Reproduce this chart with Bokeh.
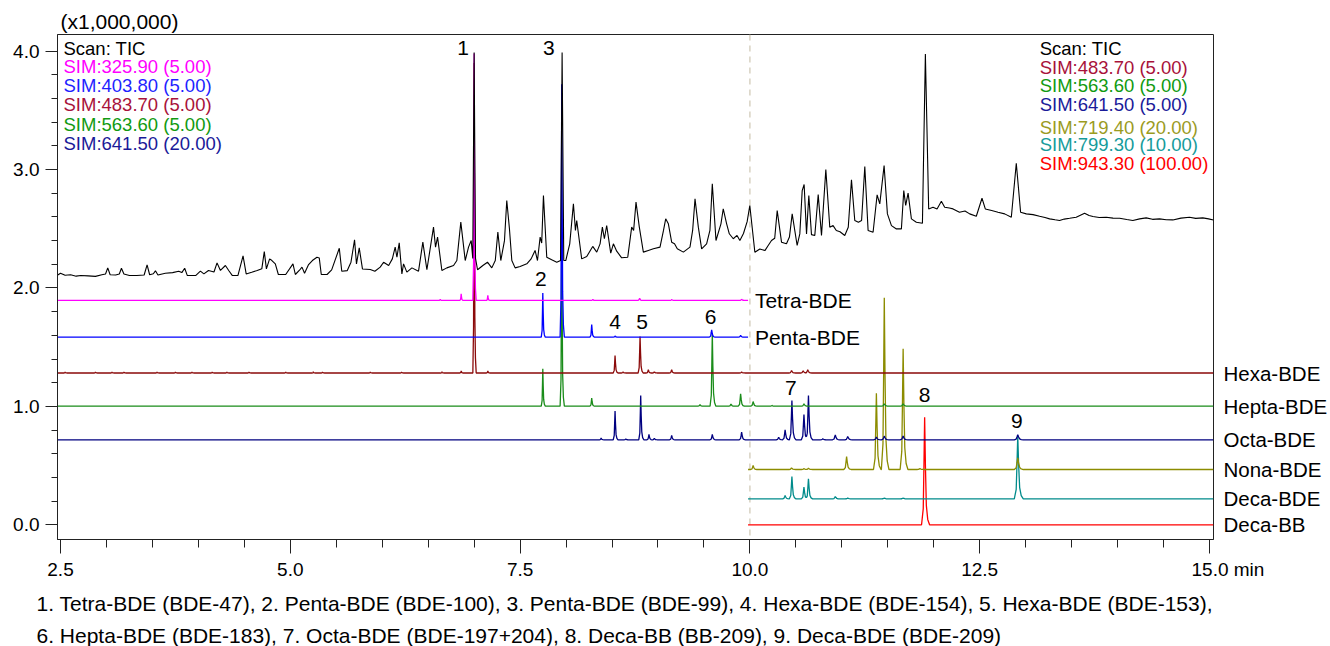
import numpy as np
from bokeh.plotting import figure
from bokeh.models import (Label, Span, FixedTicker, NumeralTickFormatter, Range1d, Title,
                          LinearAxis, CustomJSTickFormatter)
from bokeh.embed import file_html
from bokeh.resources import INLINE

# ---------------- data ----------------
TIC_T = [2.47, 2.50, 2.55, 2.61, 2.67, 2.72, 2.80, 2.88, 2.95, 2.99, 3.014, 3.04, 3.10, 3.14, 3.163, 3.19,
         3.25, 3.33, 3.41, 3.442, 3.47, 3.51, 3.533, 3.56, 3.64, 3.72, 3.786, 3.82, 3.851, 3.88, 3.97, 4.022,
         4.06, 4.11, 4.17, 4.203, 4.24, 4.294, 4.33, 4.37, 4.43, 4.486, 4.52, 4.58, 4.64, 4.69, 4.717, 4.74,
         4.775, 4.80, 4.837, 4.87, 4.95, 5.029, 5.055, 5.10, 5.127, 5.155, 5.199, 5.24, 5.290, 5.315, 5.337,
         5.40, 5.45, 5.533, 5.56, 5.62, 5.66, 5.699, 5.72, 5.750, 5.785, 5.87, 5.92, 5.978, 6.015, 6.07, 6.11,
         6.141, 6.16, 6.185, 6.214, 6.232, 6.268, 6.323, 6.395, 6.442, 6.486, 6.558, 6.580, 6.602, 6.649,
         6.703, 6.776, 6.812, 6.855, 6.903, 6.939, 6.968, 6.985, 7.000, 7.015, 7.037, 7.095, 7.145, 7.192,
         7.230, 7.258, 7.290, 7.330, 7.355, 7.384, 7.410, 7.446, 7.500, 7.573, 7.620, 7.663, 7.689, 7.718,
         7.735, 7.754, 7.790, 7.844, 7.899, 7.940, 7.957, 7.975, 7.997, 8.040, 8.080, 8.102, 8.116, 8.170,
         8.225, 8.290, 8.334, 8.370, 8.395, 8.417, 8.442, 8.486, 8.515, 8.551, 8.605, 8.671, 8.714, 8.735,
         8.761, 8.797, 8.841, 8.895, 8.950, 9.022, 9.060, 9.084, 9.113, 9.149, 9.180, 9.210, 9.276, 9.348,
         9.377, 9.403, 9.439, 9.475, 9.529, 9.565, 9.591, 9.631, 9.685, 9.710, 9.747, 9.776, 9.819, 9.860,
         9.891, 9.930, 9.970, 9.999, 10.054, 10.108, 10.163, 10.199, 10.235, 10.270, 10.297, 10.344, 10.398,
         10.430, 10.460, 10.514, 10.543, 10.569, 10.590, 10.616, 10.641, 10.670, 10.706, 10.743, 10.779,
         10.826, 10.869, 10.905, 10.940, 10.980, 11.032, 11.070, 11.105, 11.141, 11.180, 11.215, 11.250,
         11.286, 11.340, 11.365, 11.384, 11.413, 11.460, 11.496, 11.540, 11.594, 11.648, 11.674, 11.695,
         11.721, 11.757, 11.811, 11.877, 11.909, 11.945, 11.992, 12.036, 12.083, 12.119, 12.170, 12.210,
         12.280, 12.340, 12.391, 12.463, 12.525, 12.561, 12.630, 12.699, 12.772, 12.844, 12.898, 12.945,
         13.007, 13.080, 13.152, 13.210, 13.261, 13.320, 13.369, 13.420, 13.478, 13.550, 13.641, 13.690,
         13.732, 13.800, 13.877, 13.950, 14.022, 14.100, 14.166, 14.240, 14.311, 14.380, 14.456, 14.530,
         14.601, 14.690, 14.782, 14.850, 14.927, 14.990, 15.043]
TIC_V = [2.110, 2.125, 2.108, 2.112, 2.100, 2.106, 2.102, 2.098, 2.112, 2.118, 2.170, 2.112, 2.110, 2.118, 2.167, 2.118,
         2.105, 2.105, 2.110, 2.195, 2.112, 2.120, 2.145, 2.110, 2.125, 2.130, 2.142, 2.130, 2.167, 2.105, 2.105, 2.142,
         2.119, 2.148, 2.135, 2.212, 2.148, 2.190, 2.148, 2.105, 2.105, 2.271, 2.119, 2.133, 2.148, 2.162, 2.308, 2.162,
         2.246, 2.232, 2.204, 2.114, 2.114, 2.204, 2.114, 2.150, 2.176, 2.124, 2.198, 2.232, 2.260, 2.254, 2.114,
         2.114, 2.153, 2.336, 2.142, 2.147, 2.218, 2.407, 2.204, 2.339, 2.161, 2.156, 2.142, 2.176, 2.218, 2.190, 2.246,
         2.345, 2.260, 2.381, 2.119, 2.204, 2.134, 2.170, 2.142, 2.387, 2.154, 2.514, 2.345, 2.430, 2.148,
         2.170, 2.190, 2.232, 2.556, 2.232, 2.345, 2.401, 2.250, 3.990, 2.250, 2.154, 2.190, 2.218, 2.170,
         2.232, 2.472, 2.232, 2.400, 2.739, 2.500, 2.232, 2.170, 2.182, 2.204, 2.246, 2.317, 2.232, 2.430,
         2.380, 2.781, 2.260, 2.238, 2.218, 2.232, 3.990, 2.232, 2.232, 2.373, 2.711, 2.486, 2.570, 2.246,
         2.266, 2.351, 2.303, 2.373, 2.514, 2.416, 2.528, 2.294, 2.373, 2.311, 2.255, 2.260, 2.514, 2.486,
         2.725, 2.514, 2.303, 2.317, 2.331, 2.345, 2.486, 2.584, 2.542, 2.387, 2.373, 2.331, 2.303, 2.345,
         2.486, 2.753, 2.514, 2.331, 2.373, 2.486, 2.880, 2.401, 2.542, 2.669, 2.542, 2.458, 2.416, 2.444,
         2.401, 2.460, 2.560, 2.697, 2.302, 2.330, 2.316, 2.359, 2.401, 2.420, 2.654, 2.387, 2.373,
         2.430, 2.626, 2.359, 2.457, 2.823, 2.874, 2.457, 2.781, 2.451, 2.443, 2.789, 2.443,
         3.000, 2.513, 2.527, 2.485, 2.475, 2.443, 2.513, 2.913, 2.570, 2.556, 2.570, 3.026,
         2.485, 2.471, 2.650, 2.787, 2.710, 3.034, 2.626, 2.527, 2.499, 2.499, 2.823, 2.697,
         2.801, 2.584, 2.556, 2.547, 3.977, 2.668, 2.682, 2.668, 2.733, 2.682, 2.675, 2.668,
         2.640, 2.650, 2.626, 2.606, 2.758, 2.668, 2.654, 2.640, 2.626, 2.598, 3.054, 2.640,
         2.626, 2.620, 2.606, 2.596, 2.584, 2.576, 2.570, 2.582, 2.589, 2.598, 2.632, 2.612,
         2.604, 2.596, 2.598, 2.590, 2.589, 2.578, 2.570, 2.584, 2.592, 2.580, 2.584, 2.576,
         2.575, 2.590, 2.598, 2.588, 2.592, 2.584, 2.575]

TRACE_NAMES = ["Tetra-BDE", "Penta-BDE", "Hexa-BDE", "Hepta-BDE", "Octa-BDE", "Nona-BDE", "Deca-BDE", "Deca-BB"]
TRACE_BASE = [1.895, 1.585, 1.282, 1.002, 0.718, 0.467, 0.219, 0.0]
TRACE_START = [2.47, 2.47, 2.47, 2.47, 2.47, 9.98, 9.98, 9.98]
TRACE_END = [9.98, 9.98, 15.043, 15.043, 15.043, 15.043, 15.043, 15.043]

TETRA_PEAK_T = [6.63, 6.859, 7.000, 7.149, 8.290, 8.800, 9.150, 9.910]
TETRA_PEAK_V = [1.905, 1.951, 3.980, 1.937, 1.903, 1.914, 1.902, 1.904]
PENTA_PEAK_T = [7.747, 7.953, 8.279, 8.533, 9.584, 9.899]
PENTA_PEAK_V = [1.957, 3.720, 1.692, 1.594, 1.647, 1.599]
HEXA_PEAK_T = [2.55, 2.88, 3.06, 3.19, 3.55, 3.75, 3.93, 4.15, 4.31, 4.55, 4.95, 5.25, 5.35, 5.87, 6.21,
               6.65, 6.859, 7.000, 7.149, 8.533, 8.620, 8.805, 8.895, 8.960, 9.149, 9.910, 10.453,
               10.580, 10.629]
HEXA_PEAK_V = [1.290, 1.289, 1.290, 1.289, 1.290, 1.289, 1.290, 1.289, 1.290, 1.289, 1.290, 1.291, 1.289,
               1.290, 1.289, 1.292, 1.300, 3.900, 1.300, 1.430, 1.290, 1.591, 1.309, 1.292, 1.309, 1.290,
               1.303, 1.300, 1.309]
HEPTA_PEAK_T = [7.747, 7.953, 8.279, 9.457, 9.591, 9.794, 9.899, 10.035, 10.240, 10.588, 11.462, 11.667]
HEPTA_PEAK_V = [1.317, 2.500, 1.070, 1.015, 1.619, 1.020, 1.106, 1.041, 1.008, 1.022, 1.022, 1.022]
OCTA_PEAK_T = [8.381, 8.533, 8.650, 8.812, 8.902, 8.960, 9.149, 9.591, 9.910, 10.313, 10.383, 10.457,
               10.588, 10.637, 10.793, 10.929, 11.064, 11.376, 11.462, 11.667, 12.914]
OCTA_PEAK_V = [0.732, 0.960, 0.725, 1.092, 0.763, 0.730, 0.755, 0.763, 0.783, 0.740, 0.802, 1.050,
               0.932, 1.092, 0.726, 0.760, 0.746, 0.740, 0.749, 0.749, 0.760]
NONA_PEAK_T = [10.035, 10.453, 10.588, 10.637, 11.052, 11.376, 11.462, 11.667, 11.850, 12.914]
NONA_PEAK_V = [0.501, 0.481, 0.475, 0.478, 0.577, 1.112, 1.917, 1.486, 0.475, 0.566]
DECABDE_PEAK_T = [10.383, 10.457, 10.588, 10.637, 10.929, 11.064, 11.462, 11.667, 12.914]
DECABDE_PEAK_V = [0.248, 0.408, 0.318, 0.389, 0.239, 0.226, 0.225, 0.225, 0.749]
DECABB_PEAK_T = [11.901]
DECABB_PEAK_V = [0.909]

PEAK_IDS = ["1", "2", "3", "4", "5", "6", "7", "8", "9"]
PEAK_RT = [7.000, 7.747, 7.953, 8.533, 8.805, 9.584, 10.457, 11.901, 12.914]
PEAK_TOP = [3.990, 1.957, 3.990, 1.430, 1.591, 1.647, 1.050, 0.909, 0.760]

LEFT_LEGEND = ["Scan: TIC", "SIM:325.90 (5.00)", "SIM:403.80 (5.00)", "SIM:483.70 (5.00)",
               "SIM:563.60 (5.00)", "SIM:641.50 (20.00)"]
RIGHT_LEGEND = ["Scan: TIC", "SIM:483.70 (5.00)", "SIM:563.60 (5.00)", "SIM:641.50 (5.00)",
                "SIM:719.40 (20.00)", "SIM:799.30 (10.00)", "SIM:943.30 (100.00)"]
CAPTION = ["1. Tetra-BDE (BDE-47), 2. Penta-BDE (BDE-100), 3. Penta-BDE (BDE-99), 4. Hexa-BDE (BDE-154), 5. Hexa-BDE (BDE-153),",
           "6. Hepta-BDE (BDE-183), 7. Octa-BDE (BDE-197+204), 8. Deca-BB (BB-209), 9. Deca-BDE (BDE-209)"]
X_TICKS = [2.5, 5.0, 7.5, 10.0, 12.5, 15.0]
Y_TICKS = [0.0, 1.0, 2.0, 3.0, 4.0]

# ---------------- styling / layout ----------------
FONT = "Liberation Sans"
TRACE_COLORS = ["#ff00ff", "#0000ff", "#8b0a0a", "#1a8c1a", "#000080", "#8c8c00", "#008b8b", "#ff0000"]
LEFT_LEG_COLORS = ["#000000", "#ff00ff", "#1f1fff", "#a8123a", "#119a11", "#1a1a99"]
RIGHT_LEG_COLORS = ["#000000", "#a8123a", "#119a11", "#1a1a99", "#9b9b1f", "#169b9b", "#ff0000"]

X0, X1 = 2.46739, 15.04348
Y0, Y1 = -0.12416, 4.14105


def X(px):
    return 2.5 + (px - 60.0) / 92.0


def Y(py):
    return (524.3 - py) / 118.4


SHAPE_DT = np.array([-1.0, -0.45, -0.2, 0.0, 0.25, 0.55, 1.0, 1.6])
SHAPE_F = np.array([0.0, 0.15, 0.6, 1.0, 0.55, 0.18, 0.05, 0.0])


def width_at(t):
    return 0.014 + 0.004 * max(t - 7.0, 0.0)


def trace_xy(base, t0, t1, peak_t, peak_v):
    ts = [t0, t1]
    for t in peak_t:
        ts.extend(list(t + SHAPE_DT * width_at(t)))
    ts = np.unique(np.clip(np.array(ts), t0, t1))
    ys = np.full_like(ts, base, dtype=float)
    for t, v in zip(peak_t, peak_v):
        xs = t + SHAPE_DT * width_at(t)
        contrib = base + (v - base) * np.interp(ts, xs, SHAPE_F, left=0.0, right=0.0)
        ys = np.maximum(ys, contrib)
    return ts, ys


p = figure(width=1330, height=646, x_range=Range1d(X0, X1), y_range=Range1d(Y0, Y1),
           output_backend="svg", toolbar_location=None,
           min_border_left=57, min_border_right=116, min_border_top=34, min_border_bottom=107)
p.xgrid.grid_line_color = None
p.ygrid.grid_line_color = None
p.outline_line_color = "#222222"
p.outline_line_width = 1
p.background_fill_color = "white"
p.border_fill_color = "white"

xa = p.xaxis[0]
xa.ticker = FixedTicker(ticks=X_TICKS, minor_ticks=[2.5 + 0.5 * i for i in range(26)])
xa.formatter = CustomJSTickFormatter(
    code="return tick >= 14.99 ? '\u00a0\u00a0\u00a0\u00a0\u00a0\u00a0\u00a015.0 min' : tick.toFixed(1);")
xa.major_tick_in = 0
xa.major_tick_out = 14
xa.minor_tick_in = 0
xa.minor_tick_out = 8
xa.major_label_standoff = 5
xa.major_label_text_font = FONT
xa.major_label_text_font_size = "19px"
xa.major_label_text_color = "black"
xa.axis_line_color = "#222222"
xa.major_tick_line_color = "#222222"
xa.minor_tick_line_color = "#222222"

ya = p.yaxis[0]
ya.ticker = FixedTicker(ticks=Y_TICKS, minor_ticks=[0.2 * i for i in range(21)])
ya.formatter = NumeralTickFormatter(format="0.0")
ya.major_tick_in = 0
ya.major_tick_out = 12
ya.minor_tick_in = 0
ya.minor_tick_out = 6
ya.major_label_standoff = 6
ya.major_label_text_font = FONT
ya.major_label_text_font_size = "19px"
ya.major_label_text_color = "black"
ya.axis_line_color = "#222222"
ya.major_tick_line_color = "#222222"
ya.minor_tick_line_color = "#222222"

# names of the traces that run to the right edge: a tickless right axis
right_idx = [i for i in range(2, len(TRACE_NAMES))]
ra = LinearAxis(ticker=FixedTicker(ticks=sorted(TRACE_BASE[i] for i in right_idx)),
                formatter=CustomJSTickFormatter(
                    args=dict(vals=[TRACE_BASE[i] for i in right_idx],
                              names=[TRACE_NAMES[i] for i in right_idx]),
                    code="""
let best = 0, d = 1e9;
for (let i = 0; i < vals.length; i++) { const e = Math.abs(vals[i] - tick); if (e < d) { d = e; best = i; } }
return names[best];"""))
ra.axis_line_color = None
ra.major_tick_line_color = None
ra.minor_tick_line_color = None
ra.major_tick_out = 0
ra.major_tick_in = 0
ra.major_label_standoff = 10
ra.major_label_text_font = FONT
ra.major_label_text_font_size = "20.5px"
ra.major_label_text_color = "black"
p.add_layout(ra, "right")

p.add_layout(Span(location=10.0, dimension="height", line_color="#d8d2c2", line_dash="6 5",
                  line_width=1.5, level="underlay"))

PEAKS = [(TETRA_PEAK_T, TETRA_PEAK_V), (PENTA_PEAK_T, PENTA_PEAK_V), (HEXA_PEAK_T, HEXA_PEAK_V),
         (HEPTA_PEAK_T, HEPTA_PEAK_V), (OCTA_PEAK_T, OCTA_PEAK_V), (NONA_PEAK_T, NONA_PEAK_V),
         (DECABDE_PEAK_T, DECABDE_PEAK_V), (DECABB_PEAK_T, DECABB_PEAK_V)]

for i in [7, 6, 5, 4, 3, 2, 1, 0]:
    pt, pv = PEAKS[i]
    ts, ys = trace_xy(TRACE_BASE[i], TRACE_START[i], TRACE_END[i], pt, pv)
    p.line(ts, ys, line_color=TRACE_COLORS[i], line_width=1.3)

p.line(TIC_T, TIC_V, line_color="black", line_width=1.1)

# peak numbers (pixel offsets from apex)
DX = [-11, -2, -13, 0, 2, -1, -1, 0, -1]
DY = [4, 14, 4, 33, 14, 13, 12, 22, 14]
for lab, rt, top, dx, dy in zip(PEAK_IDS, PEAK_RT, PEAK_TOP, DX, DY):
    p.add_layout(Label(x=rt + dx / 92.0, y=top + dy / 118.4, text=lab, text_font=FONT,
                       text_font_size="21px", text_align="center", text_baseline="middle",
                       text_color="black"))

# names of the two traces that stop at 10 min
for i in range(2):
    p.add_layout(Label(x=X(755), y=TRACE_BASE[i], text=TRACE_NAMES[i], text_font=FONT,
                       text_font_size="21px", text_align="left", text_baseline="middle",
                       text_color="black"))

# legends
for txt, col, ypx in zip(LEFT_LEGEND, LEFT_LEG_COLORS, [48, 66, 85, 104, 124, 142.7]):
    p.add_layout(Label(x=X(63), y=Y(ypx), text=txt, text_font=FONT, text_font_size="18.5px",
                       text_align="left", text_baseline="middle", text_color=col))
for txt, col, ypx in zip(RIGHT_LEGEND, RIGHT_LEG_COLORS, [48.3, 66.7, 84.5, 103.5, 126.5, 143.5, 162.5]):
    p.add_layout(Label(x=X(1040), y=Y(ypx), text=txt, text_font=FONT, text_font_size="18.5px",
                       text_align="left", text_baseline="middle", text_color=col))

# multiplier above the axis
p.add_layout(Title(text="(x1,000,000)", align="left", offset=3, text_font=FONT, text_font_size="21px",
                   text_font_style="normal", text_color="black", standoff=3), "above")
# caption below
for line, so in zip(CAPTION, [14, 0]):
    p.add_layout(Title(text=line, align="left", offset=-21, text_font=FONT, text_font_size="21px",
                       text_font_style="normal", text_color="black", standoff=so), "below")

open("out.html", "w").write(file_html(p, INLINE))
